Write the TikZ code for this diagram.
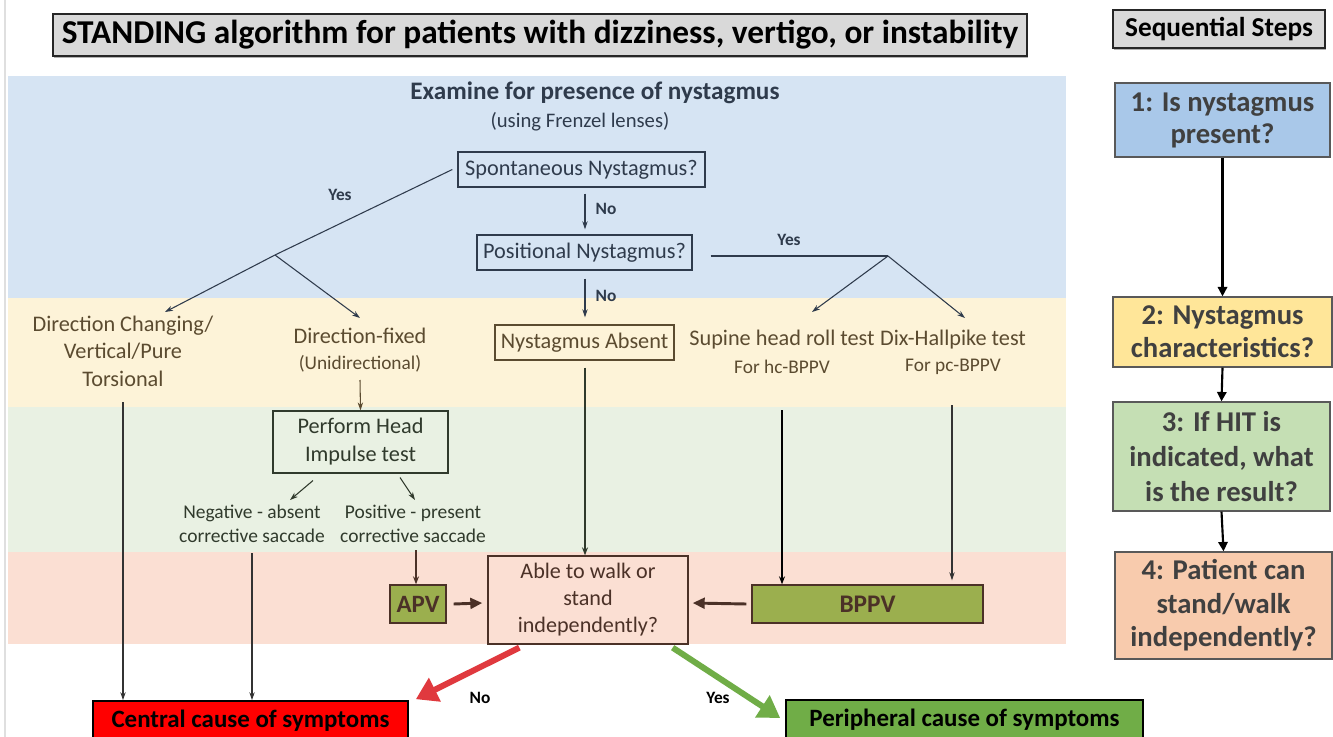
\documentclass[tikz,border=0pt]{standalone}
\usepackage{fontspec}
\setmainfont{Carlito}
\usetikzlibrary{arrows.meta,calc,shadows}
\definecolor{bandblue}{HTML}{D6E4F3}
\definecolor{bandyellow}{HTML}{FDF3D8}
\definecolor{bandgreen}{HTML}{E9F1E3}
\definecolor{bandpink}{HTML}{FBDFD3}
\definecolor{txtblue}{HTML}{2F3B4C}
\definecolor{txtyellow}{HTML}{5B4B30}
\definecolor{txtgreen}{HTML}{303A2C}
\definecolor{txtpink}{HTML}{4B3127}
\definecolor{olivebox}{HTML}{9BAF4E}
\definecolor{titlegray}{HTML}{D9D9D9}
\definecolor{redbox}{HTML}{FF0000}
\definecolor{greenbox}{HTML}{70AD47}
\definecolor{redarrow}{HTML}{E0393E}
\definecolor{stepone}{HTML}{A9C8E9}
\definecolor{steptwo}{HTML}{FFE699}
\definecolor{stepthree}{HTML}{C5DFB4}
\definecolor{stepfour}{HTML}{F8CBAD}
\definecolor{steptext}{HTML}{404040}
\tikzset{
  bodyfont/.style={font=\fontsize{16.7}{20}\selectfont},
  smallfont/.style={font=\fontsize{14.5}{17}\selectfont},
  qbox/.style={draw=#1, line width=1.0pt, inner sep=0pt, align=center, bodyfont},
  plaintext/.style={inner sep=0pt, align=center, bodyfont},
  lbl/.style={inner sep=0pt, font=\bfseries\fontsize{13}{15}\selectfont},
  thinarrow/.style={draw=#1, line width=0.8pt, -{Stealth[length=6pt,width=4pt]}},
  medarrow/.style={draw=#1, line width=1.2pt, -{Stealth[length=6pt,width=4.5pt]}},
  steparrow/.style={draw=black, line width=1.6pt, -{Triangle[length=7pt,width=7pt]}},
  stepbox/.style={draw=gray!70!black, line width=1pt, fill=#1, align=center, text=steptext, font=\bfseries\fontsize{21.5}{25}\selectfont, inner sep=0pt},
  outbox/.style={draw=black, line width=1.2pt, fill=#1, inner sep=0pt, font=\bfseries\fontsize{18.7}{22}\selectfont},
  headbox/.style={draw=black!85, line width=1.4pt, fill=titlegray, inner sep=0pt, drop shadow={shadow xshift=0.8pt, shadow yshift=-1.2pt, opacity=0.6}},
}
\begin{document}
\begin{tikzpicture}[x=0.75pt,y=-0.75pt]
\useasboundingbox (0,0) rectangle (1333,737);
\fill[white] (0,0) rectangle (1333,737);
\draw[gray!25, line width=0.8pt] (5,0) -- (5,737);
% bands
\fill[bandblue] (8,76) rectangle (1066,298);
\fill[bandyellow] (8,298) rectangle (1066,407);
\fill[bandgreen] (8,407) rectangle (1066,552);
\fill[bandpink] (8,552) rectangle (1066,644);

% titles
\node[headbox, minimum width=974*0.75pt, minimum height=42*0.75pt, font=\bfseries\fontsize{25}{28}\selectfont] (title) at (540,35) {\raisebox{-1.5pt}{STANDING algorithm for patients with dizziness, vertigo, or instability}};
\node[headbox, minimum width=212*0.75pt, minimum height=38*0.75pt, font=\bfseries\fontsize{20.5}{23}\selectfont] (seq) at (1219,29) {\raisebox{-1pt}{Sequential Steps}};

% blue band
\node[inner sep=0pt, text=txtblue, font=\bfseries\fontsize{18.9}{22}\selectfont] (exam) at (595,93) {Examine for presence of nystagmus};
\node[inner sep=0pt, text=txtblue, font=\fontsize{15.5}{18}\selectfont] (frenzel) at (580,122) {(using Frenzel lenses)};
\node[qbox=txtblue, text=txtblue, minimum width=247*0.75pt, minimum height=35*0.75pt] (spont) at (581.5,169.5) {\raisebox{-1pt}{Spontaneous Nystagmus?}};
\node[qbox=txtblue, text=txtblue, minimum width=215*0.75pt, minimum height=35*0.75pt] (posit) at (584.5,252.5) {\raisebox{-1pt}{Positional Nystagmus?}};
\node[lbl, text=txtblue] (yes1) at (340,195) {Yes};
\node[lbl, text=txtblue] (no1) at (606,209) {No};
\node[lbl, text=txtblue] (yes2) at (789,240) {Yes};
\node[lbl, text=txtblue] (no2) at (606,296) {No};

% yellow band
\node[plaintext, text=txtyellow, font=\fontsize{16.7}{20.6}\selectfont] (dirch) at (123,351) {Direction Changing/\\Vertical/Pure\\Torsional};
\node[plaintext, text=txtyellow] (dirfix) at (360,336) {Direction-fixed};
\node[inner sep=0pt, text=txtyellow, smallfont] (unidir) at (360,364) {(Unidirectional)};
\node[qbox=txtyellow, text=txtyellow, minimum width=179*0.75pt, minimum height=35*0.75pt] (absent) at (584.5,342.5) {\raisebox{-1pt}{Nystagmus Absent}};
\node[plaintext, text=txtyellow] (supine) at (782,340) {Supine head roll test};
\node[inner sep=0pt, text=txtyellow, smallfont] (hc) at (782,367) {For hc-BPPV};
\node[plaintext, text=txtyellow] (dix) at (953,340) {Dix-Hallpike test};
\node[inner sep=0pt, text=txtyellow, smallfont] (pc) at (953,367) {For pc-BPPV};

% green band
\node[qbox=txtgreen, text=txtgreen, line width=0.8pt, minimum width=175*0.75pt, minimum height=62*0.75pt, font=\fontsize{16.7}{21}\selectfont] (hit) at (360.5,442) {Perform Head\\Impulse test};
\node[plaintext, text=txtgreen, font=\fontsize{14.6}{18}\selectfont] (neg) at (252,524) {Negative - absent\\corrective saccade};
\node[plaintext, text=txtgreen, font=\fontsize{14.6}{18}\selectfont] (pos) at (413,524) {Positive - present\\corrective saccade};

% pink band
\node[draw=txtpink, line width=1pt, fill=olivebox, text=txtpink, inner sep=0pt, minimum width=56*0.75pt, minimum height=38*0.75pt, font=\bfseries\fontsize{18.7}{22}\selectfont] (apv) at (418,604) {\raisebox{-1pt}{APV}};
\node[draw=txtpink, line width=1pt, fill=bandpink, text=txtpink, inner sep=0pt, align=center, minimum width=200*0.75pt, minimum height=88*0.75pt, font=\fontsize{16.6}{20.3}\selectfont] (able) at (588,600) {Able to walk or\\stand\\independently?};
\node[draw=txtpink, line width=1pt, fill=olivebox, text=txtpink, inner sep=0pt, minimum width=231*0.75pt, minimum height=38*0.75pt, font=\bfseries\fontsize{19}{22}\selectfont] (bppv) at (867.5,604) {\raisebox{-1pt}{BPPV}};

% outcomes
\node[outbox=redbox, minimum width=315*0.75pt, minimum height=40*0.75pt] (central) at (250.5,721) {Central cause of symptoms};
\node[outbox=greenbox, minimum width=357*0.75pt, minimum height=40*0.75pt] (periph) at (964.5,720) {Peripheral cause of symptoms};
\node[lbl, text=black] (no3) at (480,698) {No};
\node[lbl, text=black] (yes3) at (718,698) {Yes};

% steps
\node[stepbox=stepone, minimum width=215*0.75pt, minimum height=74*0.75pt, font=\bfseries\fontsize{21.5}{24}\selectfont] (s1) at (1222.5,120) {1: Is nystagmus\\present?};
\node[stepbox=steptwo, minimum width=219*0.75pt, minimum height=70*0.75pt] (s2) at (1222.5,332) {2: Nystagmus\\characteristics?};
\node[stepbox=stepthree, minimum width=217*0.75pt, minimum height=109*0.75pt, font=\bfseries\fontsize{21.5}{26}\selectfont] (s3) at (1221.5,456.5) {3: If HIT is\\indicated, what\\is the result?};
\node[stepbox=stepfour, minimum width=217*0.75pt, minimum height=107*0.75pt] (s4) at (1223.5,605.5) {4: Patient can\\stand/walk\\independently?};
\draw[steparrow] (s1.south) -- (s2.north);
\draw[steparrow] (s2.south) -- (s3.north);
\draw[steparrow] (s3.south) -- (s4.north);

% coordinates for connectors
\coordinate (j1) at (275,255);
\coordinate (j2) at (888,256);
\coordinate (dirchtip) at (165,312);
\coordinate (dirfixtip) at (360,318);
\coordinate (supinetip) at (812,312);
\coordinate (dixtip) at (965,318);
\coordinate (dcstart) at (123,402);
\coordinate (negstart) at (252,553);
\coordinate (supstart) at (782,410);
\coordinate (dixstart) at (952,405);
\coordinate (posstart) at (416,550);
\coordinate (negtip) at (290,500);
\coordinate (postip) at (415,500);
\coordinate (fixstart) at (360,380);

% blue connectors
\draw[draw=txtblue, line width=0.8pt] ($(spont.west)+(-5,0)$) -- (j1);
\draw[thinarrow=txtblue] (j1) -- (dirchtip);
\draw[thinarrow=txtblue] (j1) -- (dirfixtip);
\draw[thinarrow=txtblue] ($(spont.south)+(3.5,6)$) -- ($(posit.north)+(0.5,-5)$);
\draw[thinarrow=txtblue] ($(posit.south)+(0.5,8)$) -- ($(absent.north)+(0.5,-7)$);
\draw[draw=txtblue, line width=0.8pt] ($(posit.east)+(18,3.5)$) -- (j2);
\draw[thinarrow=txtblue] (j2) -- (supinetip);
\draw[thinarrow=txtblue] (j2) -- (dixtip);

% vertical connectors
\draw[thinarrow=txtyellow] (fixstart) -- (hit.north);
\draw[thinarrow=black!80] (dcstart) -- (dcstart |- central.north);
\draw[thinarrow=black!80] (negstart) -- (negstart |- central.north);
\draw[medarrow=txtgreen] ($(absent.south)+(0.5,7)$) -- ($(able.north)+(-3,0)$);
\draw[medarrow=black] (supstart) -- (supstart |- bppv.north);
\draw[thinarrow=black!80] (dixstart) -- ($(dixstart |- bppv.north)+(0,-4)$);
\draw[thinarrow=txtgreen] ($(hit.south)+(-47.5,7)$) -- (negtip);
\draw[thinarrow=txtgreen] ($(hit.south)+(39.5,4)$) -- (postip);
\draw[medarrow=txtpink] (posstart) -- (posstart |- apv.north);

% thick arrows
\draw[draw=txtpink, line width=2.2pt, -{Triangle[length=9pt,width=8pt]}] ($(apv.east)+(7,0)$) -- ($(able.west)+(-5,3)$);
\draw[draw=txtpink, line width=2.2pt, -{Triangle[length=9pt,width=8pt]}] ($(bppv.west)+(-5,0)$) -- ($(able.east)+(4,3)$);
\draw[draw=redarrow, line width=4.5pt, -{Triangle[length=16pt,width=19pt]}] ($(able.south west)+(32,3)$) -- ($(central.north east)+(7,-1)$);
\draw[draw=greenbox, line width=4.5pt, -{Triangle[length=16pt,width=19pt]}] ($(able.south east)+(-16,3)$) -- ($(periph.west)+(-5,-2)$);
\end{tikzpicture}
\end{document}
